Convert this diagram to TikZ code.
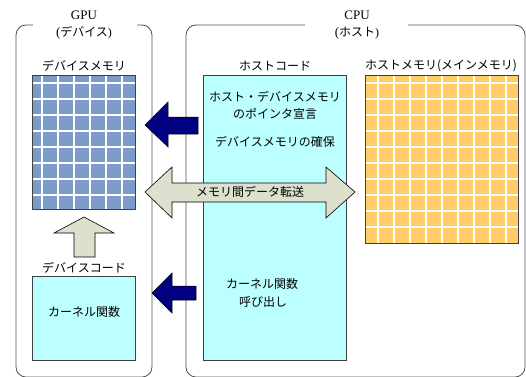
\documentclass[tikz,border=0pt]{standalone}
\usepackage{fontspec}
\newfontfamily\jp{Noto Sans CJK JP}
\newfontfamily\serifjp{Liberation Serif}
\definecolor{gridblue}{HTML}{7B9BCB}
\definecolor{gridorange}{HTML}{FFCC66}
\definecolor{codecyan}{HTML}{BBFFFF}
\definecolor{arrowlight}{HTML}{DDE0CC}
\definecolor{arrownavy}{HTML}{000080}
\definecolor{bracketgray}{HTML}{505050}
\definecolor{edgegray}{HTML}{404040}
\tikzset{
  jptext/.style={font=\jp\fontsize{12}{14}\selectfont, inner sep=0pt},
  toplabel/.style={font=\fontsize{13}{15}\selectfont, inner sep=0pt},
  bracket/.style={draw=bracketgray, line width=0.8pt, rounded corners=10pt},
  codebox/.style={draw=edgegray, fill=codecyan, line width=0.7pt},
  membox/.style={draw=edgegray, line width=0.7pt},
  gridline/.style={draw=white, line width=1.8pt},
  navyarrow/.style={fill=arrownavy, draw=black, line width=0.5pt},
  lightarrow/.style={fill=arrowlight, draw=black, line width=0.6pt},
}
\begin{document}
\begin{tikzpicture}[x=1pt,y=-1pt]
\useasboundingbox (0,0) rectangle (526,376);
\fill[white] (0,0) rectangle (526,376);

% brackets
\draw[bracket] (33,25) -- (16,25) -- (16,377) -- (152,377) -- (152,25) -- (137,25);
\draw[bracket] (305,25) -- (186,25) -- (186,377) -- (525,377) -- (525,25) -- (408,25);
\node[toplabel] (gpu) at (84,15) {\serifjp GPU};
\node[toplabel] (gpusub) at (84,33) {\serifjp(\jp\fontsize{12}{14}\selectfont デバイス\serifjp)};
\node[toplabel] (cpu) at (357,15) {\serifjp CPU};
\node[toplabel] (cpusub) at (357,33) {\serifjp(\jp\fontsize{12}{14}\selectfont ホスト\serifjp)};

% device memory grid
\fill[gridblue] (32,75) rectangle (135,209);
\begin{scope}
\clip (32,75) rectangle (135,209);
\foreach \x in {42,58,...,122} \draw[gridline] (\x,75) -- (\x,209);
\foreach \y in {83,99,...,195} \draw[gridline] (32,\y) -- (135,\y);
\end{scope}
\node[membox, minimum width=103pt, minimum height=134pt, inner sep=0pt, anchor=north west] (devmem) at (32,75) {};
\node[jptext] (devmemlabel) at (84,66) {デバイスメモリ};

% host memory grid
\fill[gridorange] (365,75) rectangle (518,243);
\begin{scope}
\clip (365,75) rectangle (518,243);
\foreach \x in {378,394,...,506} \draw[gridline] (\x,75) -- (\x,243);
\foreach \y in {83,99,...,227} \draw[gridline] (365,\y) -- (518,\y);
\end{scope}
\node[membox, minimum width=153pt, minimum height=168pt, inner sep=0pt, anchor=north west] (hostmem) at (365,75) {};
\node[jptext] (hostmemlabel) at (441,66) {ホストメモリ(メインメモリ)};

% host code box
\node[codebox, minimum width=143pt, minimum height=285pt, inner sep=0pt, anchor=north west] (hostcode) at (203,75) {};
\node[jptext] (hostcodelabel) at (275,66) {ホストコード};
\node[jptext] (t1) at (275,97) {ホスト・デバイスメモリ};
\node[jptext] (t2) at (275,114) {のポインタ宣言};
\node[jptext] (t3) at (275,142) {デバイスメモリの確保};
\node[jptext] (t4) at (262,284) {カーネル関数};
\node[jptext] (t5) at (263,302) {呼び出し};

% device code box
\node[codebox, minimum width=103pt, minimum height=84pt, inner sep=0pt, anchor=north west] (devcode) at (32,276) {};
\node[jptext] (devcodelabel) at (84,268) {デバイスコード};
\node[jptext] (kernel) at (84,312) {カーネル関数};

% arrows
\draw[navyarrow] (145,125) -- (168,102) -- (168,117) -- (198,117) -- (198,134) -- (168,134) -- (168,147) -- cycle;
\draw[navyarrow] (152,293) -- (172,273) -- (172,286) -- (196,286) -- (196,300) -- (172,300) -- (172,313) -- cycle;
\draw[lightarrow] (145,192) -- (172,167) -- (172,183) -- (326,183) -- (326,167) -- (355,192) -- (326,218) -- (326,202) -- (172,202) -- (172,218) -- cycle;
\node[jptext] (transfer) at (250,192) {メモリ間データ転送};
\draw[lightarrow] (84,217) -- (114,233) -- (95,233) -- (95,257) -- (74,257) -- (74,233) -- (54,233) -- cycle;
\end{tikzpicture}
\end{document}
